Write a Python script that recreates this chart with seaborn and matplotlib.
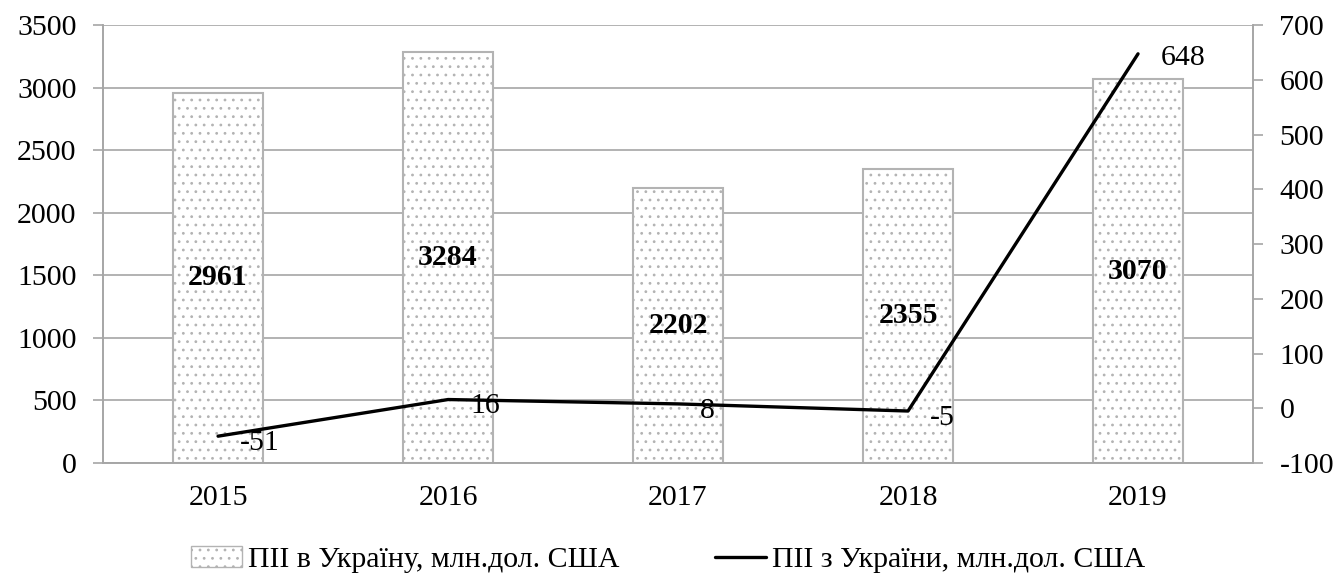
import matplotlib
matplotlib.use('Agg')
import matplotlib.pyplot as plt
import seaborn as sns
import numpy as np
import pandas as pd
from matplotlib.patches import Patch
from matplotlib.lines import Line2D

# дані з діаграми
years = ['2015', '2016', '2017', '2018', '2019']
fdi_in = [2961, 3284, 2202, 2355, 3070]      # ПІІ в Україну
fdi_out = [-51, 16, 8, -5, 648]              # ПІІ з України
label_in = 'ПІІ в Україну, млн.дол. США'
label_out = 'ПІІ з України, млн.дол. США'

sns.set_theme(style='white')
plt.rcParams['font.family'] = ['Liberation Serif', 'DejaVu Serif']
plt.rcParams['text.color'] = 'black'
plt.rcParams['axes.unicode_minus'] = False
plt.rcParams['hatch.color'] = '#6e6e6e'
plt.rcParams['hatch.linewidth'] = 0.8

df = pd.DataFrame({'year': years, 'fdi_in': fdi_in, 'fdi_out': fdi_out})
grid_c = '#a6a6a6'
bar_edge = '#b3b3b3'
fs = 21.5

fig, ax = plt.subplots(figsize=(13.42, 5.77), dpi=100)
fig.subplots_adjust(left=0.0768, right=0.9337, top=0.956, bottom=0.1976)

sns.barplot(data=df, x='year', y='fdi_in', ax=ax, color='white', width=0.39,
            edgecolor=bar_edge, linewidth=1.5, zorder=2)
for p in ax.patches:
    p.set_hatch('..')
    p.set_edgecolor(bar_edge)

ax.set_ylim(0, 3500)
ax.set_yticks(np.arange(0, 3501, 500))
ax.yaxis.grid(True, color=grid_c, linewidth=1.2, zorder=0)
ax.set_axisbelow(True)
ax.set_xlim(-0.5, 4.5)
ax.set_xlabel('')
ax.set_ylabel('')

# підписи значень стовпців по центру
for i, v in enumerate(fdi_in):
    ax.text(i, v / 2, str(v), ha='center', va='center', fontsize=fs,
            fontweight='bold', zorder=5)

ax2 = ax.twinx()
sns.lineplot(x=np.arange(len(years)), y=fdi_out, ax=ax2, color='black',
             linewidth=2.4, zorder=4)
ax2.set_ylim(-100, 700)
ax2.set_yticks(np.arange(-100, 701, 100))
for i, v in enumerate(fdi_out):
    ax2.annotate(str(v), (i, v), xytext=(16, -5 if i < 4 else -3),
                 textcoords='offset points', ha='left', va='center', fontsize=fs)

for a in (ax, ax2):
    for s in a.spines.values():
        s.set_color(grid_c)
        s.set_linewidth(1.2)
    a.spines['top'].set_visible(False)
    a.tick_params(axis='y', labelsize=fs, length=7, color=grid_c, width=1.2,
                  direction='out', pad=12, labelcolor='black')

ax.tick_params(axis='x', labelsize=fs, length=0, pad=16, labelcolor='black')
ax.set_xticks(np.arange(-0.5, 4.6, 1), minor=True)
ax.tick_params(axis='x', which='minor', length=7, color=grid_c, width=1.2)

handles = [Patch(facecolor='white', edgecolor=bar_edge, hatch='..', label=label_in),
           Line2D([0], [0], color='black', linewidth=2.4, label=label_out)]
fig.legend(handles=handles, loc='center', ncol=2, frameon=False,
           fontsize=fs, bbox_to_anchor=(0.498, 0.03), columnspacing=3.2,
           handlelength=1.7, handletextpad=0.2)

fig.savefig('out.png', dpi=100)
